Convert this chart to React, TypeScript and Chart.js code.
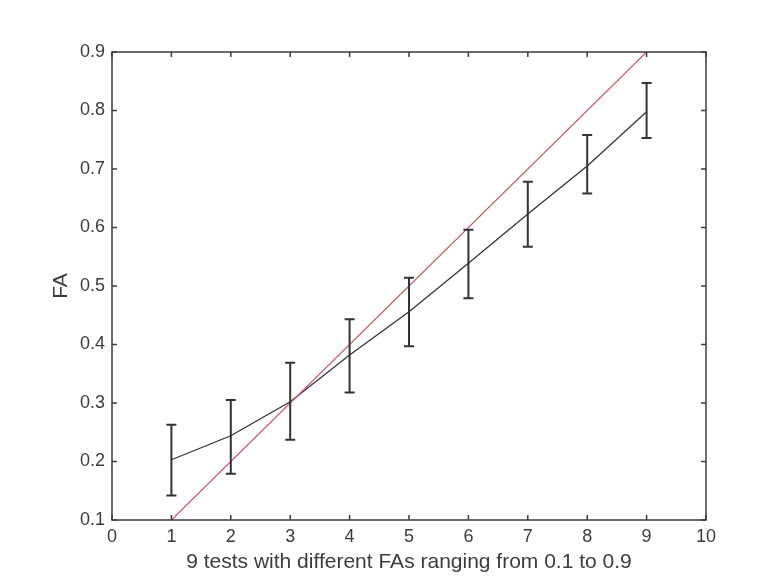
import React, { useEffect, useRef } from "react";
import { Chart, registerables } from "chart.js";

Chart.register(...registerables);

const testIndex = [1, 2, 3, 4, 5, 6, 7, 8, 9];
const meanFA = [0.203, 0.244, 0.302, 0.382, 0.456, 0.539, 0.623, 0.705, 0.798];
const upperFA = [0.263, 0.305, 0.369, 0.443, 0.514, 0.596, 0.678, 0.758, 0.847];
const lowerFA = [0.142, 0.179, 0.237, 0.318, 0.397, 0.479, 0.567, 0.658, 0.753];
const idealX = [1, 9];
const idealY = [0.1, 0.9];
const xTickValues = [0, 1, 2, 3, 4, 5, 6, 7, 8, 9, 10];
const yTickValues = [0.1, 0.2, 0.3, 0.4, 0.5, 0.6, 0.7, 0.8, 0.9];

const FONT = "'Liberation Sans', Arial, sans-serif";
const AXIS_COLOR = "#3c3c3c";

const boxAndErrorPlugin = {
  id: "boxAndError",
  afterDatasetsDraw(chart: any) {
    const { ctx, chartArea, scales } = chart;
    const xs = scales.x;
    const ys = scales.y;
    ctx.save();
    // error bars
    ctx.strokeStyle = "#333333";
    ctx.lineWidth = 2;
    const cap = 5;
    testIndex.forEach((xv, i) => {
      const px = xs.getPixelForValue(xv);
      const pt = ys.getPixelForValue(upperFA[i]);
      const pb = ys.getPixelForValue(lowerFA[i]);
      ctx.beginPath();
      ctx.moveTo(px, pt);
      ctx.lineTo(px, pb);
      ctx.moveTo(px - cap, pt);
      ctx.lineTo(px + cap, pt);
      ctx.moveTo(px - cap, pb);
      ctx.lineTo(px + cap, pb);
      ctx.stroke();
    });
    // box
    ctx.strokeStyle = AXIS_COLOR;
    ctx.lineWidth = 1.5;
    ctx.strokeRect(chartArea.left, chartArea.top, chartArea.right - chartArea.left, chartArea.bottom - chartArea.top);
    // inward ticks
    const tl = 5;
    ctx.lineWidth = 1.5;
    ctx.beginPath();
    xTickValues.forEach((v) => {
      const px = xs.getPixelForValue(v);
      ctx.moveTo(px, chartArea.bottom);
      ctx.lineTo(px, chartArea.bottom - tl);
      ctx.moveTo(px, chartArea.top);
      ctx.lineTo(px, chartArea.top + tl);
    });
    yTickValues.forEach((v) => {
      const py = ys.getPixelForValue(v);
      ctx.moveTo(chartArea.left, py);
      ctx.lineTo(chartArea.left + tl, py);
      ctx.moveTo(chartArea.right, py);
      ctx.lineTo(chartArea.right - tl, py);
    });
    ctx.stroke();
    ctx.restore();
  },
};

export default function App() {
  const ref = useRef<HTMLCanvasElement | null>(null);
  useEffect(() => {
    if (!ref.current) return;
    const chart = new Chart(ref.current, {
      type: "line",
      data: {
        datasets: [
          {
            label: "ideal",
            data: idealX.map((x, i) => ({ x, y: idealY[i] })),
            borderColor: "rgb(196,90,100)",
            borderWidth: 1.2,
            pointRadius: 0,
            fill: false,
            tension: 0,
          },
          {
            label: "FA",
            data: testIndex.map((x, i) => ({ x, y: meanFA[i] })),
            borderColor: "#333333",
            borderWidth: 1.3,
            pointRadius: 0,
            fill: false,
            tension: 0,
          },
        ],
      },
      options: {
        responsive: false,
        animation: false,
        layout: { padding: { left: 0, top: 52, right: 61, bottom: 0 } },
        plugins: { legend: { display: false }, tooltip: { enabled: false } },
        scales: {
          x: {
            type: "linear",
            min: 0,
            max: 10,
            afterFit: (s: any) => {
              s.height = 60;
            },
            afterBuildTicks: (s: any) => {
              s.ticks = xTickValues.map((v) => ({ value: v }));
            },
            grid: { display: false, drawTicks: false },
            border: { display: false },
            ticks: {
              padding: 6,
              color: AXIS_COLOR,
              font: { family: FONT, size: 18 },
              maxRotation: 0,
              callback: (v: any) => String(v),
            },
            title: {
              display: true,
              text: "9 tests with different FAs ranging from 0.1 to 0.9",
              color: AXIS_COLOR,
              font: { family: FONT, size: 21 },
              padding: { top: 0, bottom: 5 },
            },
          },
          y: {
            type: "linear",
            min: 0.1,
            max: 0.9,
            afterFit: (s: any) => {
              s.width = 112;
            },
            afterBuildTicks: (s: any) => {
              s.ticks = yTickValues.map((v) => ({ value: v }));
            },
            grid: { display: false, drawTicks: false },
            border: { display: false },
            ticks: {
              padding: 7,
              color: AXIS_COLOR,
              font: { family: FONT, size: 18 },
              callback: (v: any) => Number(v).toFixed(1),
            },
            title: {
              display: true,
              text: "FA",
              color: AXIS_COLOR,
              font: { family: FONT, size: 21 },
              padding: { top: 49, bottom: 0 },
            },
          },
        },
      },
      plugins: [boxAndErrorPlugin],
    });
    return () => chart.destroy();
  }, []);
  return (
    <div style={{ position: "absolute", left: 0, top: 0, width: 767, height: 580, background: "#fff" }}>
      <canvas ref={ref} width={767} height={580} style={{ display: "block" }} />
    </div>
  );
}
